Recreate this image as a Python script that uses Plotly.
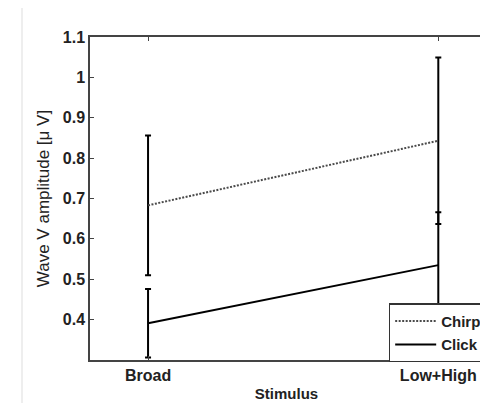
import plotly.graph_objects as go

categories = ["Broad", "Low+High"]
x_pos = [1, 2]
chirp_mean = [0.683, 0.843]
chirp_err = [0.173, 0.206]
click_mean = [0.391, 0.535]
click_err = [0.085, 0.131]
y_ticks = [0.4, 0.5, 0.6, 0.7, 0.8, 0.9, 1.0, 1.1]
y_tick_text = ["0.4", "0.5", "0.6", "0.7", "0.8", "0.9", "1", "1.1"]

FONT = "Liberation Sans, Arial, Helvetica, sans-serif"

fig = go.Figure()
fig.add_trace(go.Scatter(
    x=x_pos, y=chirp_mean, name="Chirp", mode="lines", legendgroup="a",
    line=dict(color="#4a4a4a", width=2, dash="2px,1.5px"),
    error_y=dict(type="data", array=chirp_err, color="black", thickness=2, width=3),
))
fig.add_trace(go.Scatter(
    x=x_pos, y=click_mean, name="Click", mode="lines", legendgroup="b",
    line=dict(color="black", width=2),
    error_y=dict(type="data", array=click_err, color="black", thickness=2, width=3),
))

fig.add_shape(type="line", xref="paper", yref="paper",
              x0=-0.173, x1=-0.173, y0=-0.3, y1=1.3,
              line=dict(color="#dddddd", width=1))

fig.update_layout(
    width=480, height=395,
    margin=dict(l=82, r=0, t=29, b=43),
    paper_bgcolor="white", plot_bgcolor="white",
    showlegend=True,
    legend=dict(x=0.76, y=0.176, xanchor="left", yanchor="top",
                bordercolor="#333333", borderwidth=1.5, bgcolor="white",
                font=dict(family=FONT, size=15, color="#222222", weight="bold"),
                tracegroupgap=1, itemwidth=41, traceorder="grouped"),
    xaxis=dict(range=[0.8, 2.154], tickvals=x_pos, ticktext=categories,
               showgrid=False, zeroline=False, showline=True, linecolor="#444444",
               linewidth=1.5, mirror="ticks", ticks="inside", ticklen=4,
               tickcolor="#444444",
               tickfont=dict(family=FONT, size=16, color="#222222", weight="bold"),
               title=dict(text="Stimulus", standoff=6,
                          font=dict(family=FONT, size=15, color="#222222", weight="bold"))),
    yaxis=dict(range=[0.3, 1.1], tickvals=y_ticks, ticktext=y_tick_text,
               showgrid=False, zeroline=False, showline=True, linecolor="#444444",
               linewidth=1.5, mirror=False, ticks="inside", ticklen=4,
               tickcolor="#444444",
               tickfont=dict(family=FONT, size=16, color="#222222", weight="bold"),
               title=dict(text="Wave V amplitude [\u03bc V]", standoff=9,
                          font=dict(family=FONT, size=17, color="#222222"))),
)

fig.write_html("out.html")
